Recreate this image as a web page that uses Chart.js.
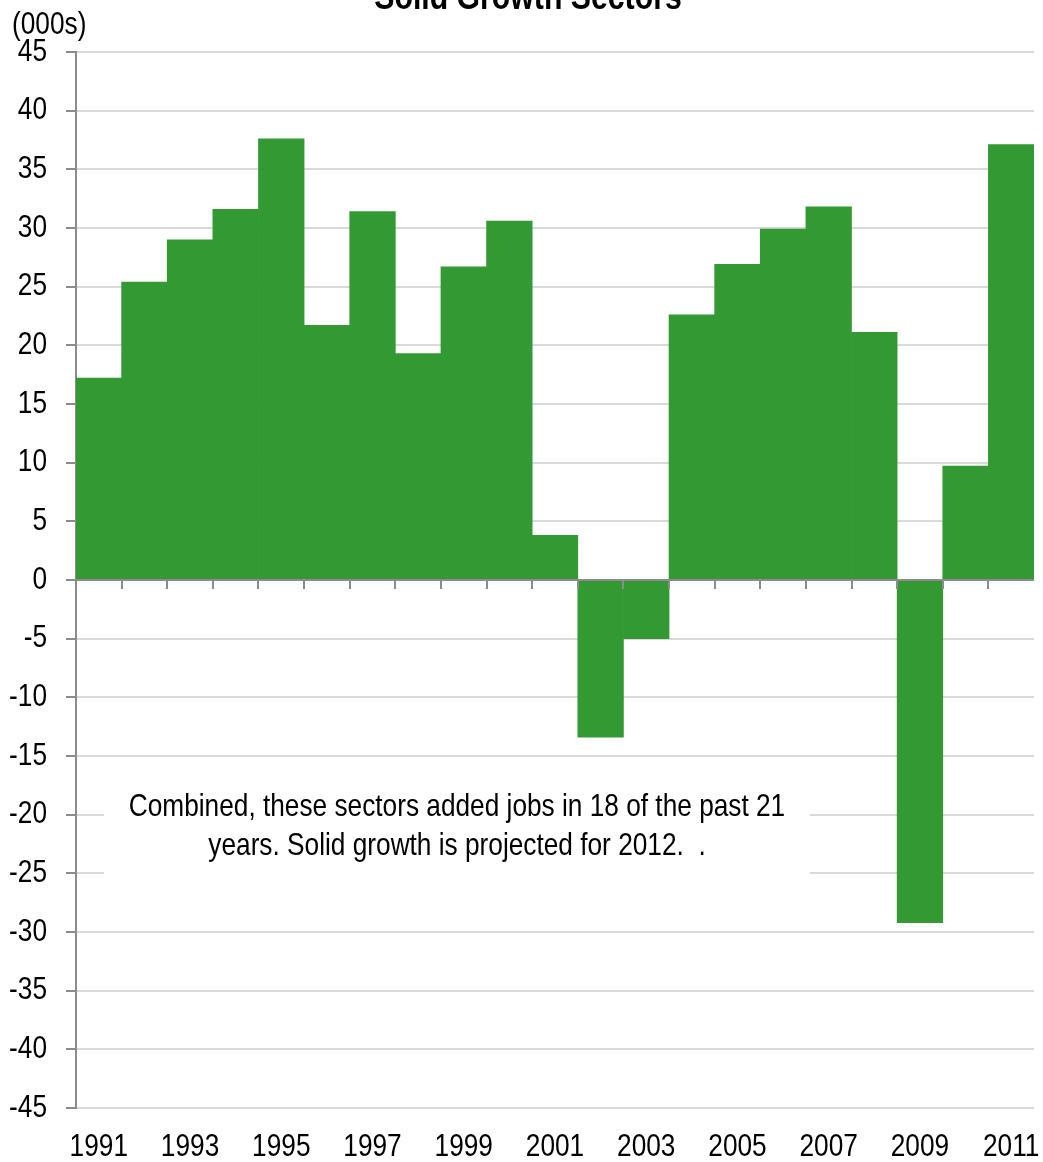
<!DOCTYPE html>
<html><head><meta charset="utf-8">
<script src="https://cdn.jsdelivr.net/npm/chart.js@4.4.1/dist/chart.umd.min.js"></script>
<style>html,body{margin:0;padding:0;background:#fff}#wrap{width:1043px;height:1162px}</style>
</head><body><div id="wrap"><canvas id="c" width="1043" height="1162"></canvas></div>
<script>
const years = ['1991','1992','1993','1994','1995','1996','1997','1998','1999','2000','2001','2002','2003','2004','2005','2006','2007','2008','2009','2010','2011'];
const jobs = [17.2,25.4,29.0,31.6,37.6,21.7,31.4,19.3,26.7,30.6,3.8,-13.4,-5.0,22.6,26.9,29.9,31.8,21.1,-29.2,9.7,37.1];
const titleText = 'Solid Growth Sectors';
const unitText = '(000s)';
const noteLines = ['Combined, these sectors added jobs in 18 of the past 21','years. Solid growth is projected for 2012.  .'];
const FONT = '"Liberation Sans", Arial, sans-serif';
const NARROW = 0.82;

function narrowText(ctx, text, x, y, align, font, baseline, sx){
  ctx.save();
  ctx.font = font;
  ctx.textAlign = align;
  ctx.textBaseline = baseline || 'middle';
  ctx.translate(x, y);
  ctx.scale(sx || NARROW, 1);
  ctx.fillText(text, 0, 0);
  ctx.restore();
}

const overlay = {
  id:'overlay',
  afterDraw(chart){
    const {ctx, chartArea:a, scales:{x,y}} = chart;
    ctx.save();
    // zero axis with downward ticks at category boundaries
    const y0 = y.getPixelForValue(0);
    ctx.strokeStyle = '#8c8c8c'; ctx.lineWidth = 2;
    ctx.beginPath(); ctx.moveTo(a.left, y0); ctx.lineTo(a.right, y0); ctx.stroke();
    const step = (a.right - a.left)/years.length;
    ctx.beginPath();
    for(let i=1;i<years.length;i++){
      const px = Math.round(x.getPixelForValue(i) - step/2);
      ctx.moveTo(px, y0); ctx.lineTo(px, y0+9);
    }
    ctx.stroke();
    ctx.fillStyle = '#000';
    // y tick labels
    y.ticks.forEach(t => {
      narrowText(ctx, String(t.value), a.left - 29, y.getPixelForValue(t.value), 'right', '32px '+FONT);
    });
    // x tick labels
    years.forEach((lab, i) => {
      if (i % 2 === 0) narrowText(ctx, lab, x.getPixelForValue(i), 1147, 'center', '32px '+FONT);
    });
    // note box
    ctx.fillStyle = '#fff';
    ctx.fillRect(104, 775, 706, 120);
    ctx.fillStyle = '#000';
    narrowText(ctx, noteLines[0], 457, 807, 'center', '32px '+FONT);
    narrowText(ctx, noteLines[1], 457, 846, 'center', '32px '+FONT);
    // title and unit
    narrowText(ctx, titleText, 528, 9, 'center', 'bold 36px '+FONT, 'alphabetic', 0.84);
    narrowText(ctx, unitText, 12, 25, 'left', '32px '+FONT);
    ctx.restore();
  }
};

new Chart(document.getElementById('c'), {
  type:'bar',
  data:{labels:years, datasets:[{data:jobs, backgroundColor:'#339933', borderWidth:0, barPercentage:1.0, categoryPercentage:1.0}]},
  options:{
    responsive:false, animation:false,
    layout:{padding:{top:52, right:9, left:0, bottom:0}},
    plugins:{legend:{display:false}, tooltip:{enabled:false}},
    scales:{
      x:{
        grid:{display:false, drawTicks:false},
        border:{display:false},
        ticks:{display:false, autoSkip:false, maxRotation:0},
        afterFit(s){ s.height = 54; s.paddingLeft = 0; s.paddingRight = 0; }
      },
      y:{
        min:-45, max:45,
        ticks:{display:false, stepSize:5},
        grid:{color:'#d9d9d9', lineWidth:2, tickLength:10, tickColor:'#8c8c8c'},
        border:{color:'#8c8c8c', width:2},
        afterFit(s){ s.width = 76; }
      }
    }
  },
  plugins:[overlay]
});
</script></body></html>
